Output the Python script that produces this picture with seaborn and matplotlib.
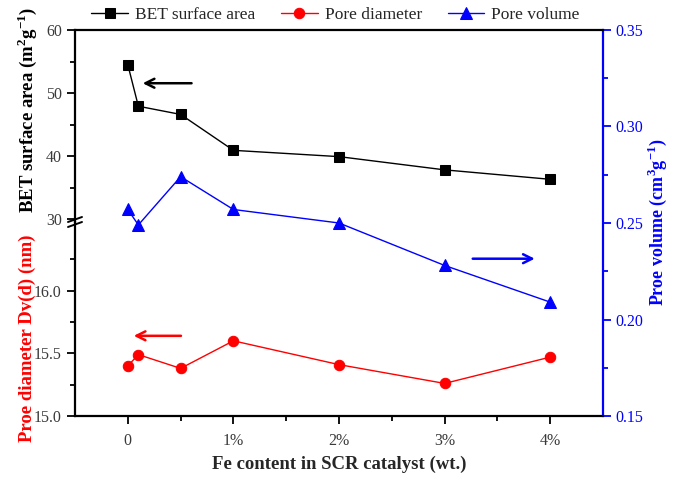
import numpy as np
import pandas as pd
import seaborn as sns
import matplotlib
matplotlib.use("Agg")
import matplotlib.pyplot as plt
from matplotlib.lines import Line2D
from matplotlib.ticker import MultipleLocator, FixedLocator

# ---------------- data ----------------
fe_content = [0, 0.1, 0.5, 1, 2, 3, 4]
bet_area = [54.5, 47.9, 46.6, 40.9, 39.9, 37.8, 36.3]
pore_diameter = [15.40, 15.49, 15.38, 15.60, 15.41, 15.26, 15.47]
pore_volume = [0.257, 0.249, 0.274, 0.257, 0.250, 0.228, 0.209]
x_ticks = [0, 1, 2, 3, 4]
x_ticklabels = ["0", "1%", "2%", "3%", "4%"]

sns.set_style("ticks")
plt.rcParams["font.family"] = ["Liberation Serif", "DejaVu Serif"]
plt.rcParams["mathtext.fontset"] = "custom"
plt.rcParams["mathtext.rm"] = "Liberation Serif"
plt.rcParams["mathtext.bf"] = "Liberation Serif:bold"

W, H = 673, 479
fig = plt.figure(figsize=(W / 100, H / 100), dpi=100)

L, R, T, B = 75, 603, 30, 416
BRK = 222


def rect(top, bottom):
    return [L / W, 1 - bottom / H, (R - L) / W, (bottom - top) / H]


TICK_GRAY = "#3a3a3a"
FS_TICK = 11.5
FS_LAB = 13.5
XLIM = (-0.5, 4.5)

# full-frame axes: x axis + right pore volume axis
ax_r = fig.add_axes(rect(T, B))
ax_r.set_facecolor("none")
ax_u = fig.add_axes(rect(T, BRK))
ax_l = fig.add_axes(rect(BRK, B))
for a in (ax_u, ax_l):
    a.set_facecolor("none")

df_v = pd.DataFrame({"x": fe_content, "y": pore_volume})
df_b = pd.DataFrame({"x": fe_content, "y": bet_area})
df_d = pd.DataFrame({"x": fe_content, "y": pore_diameter})

sns.lineplot(data=df_v, x="x", y="y", ax=ax_r, color="#0000FF", lw=1.0,
             marker="^", markersize=8, markeredgecolor="#0000FF",
             markerfacecolor="#0000FF", label="Pore volume")
sns.lineplot(data=df_b, x="x", y="y", ax=ax_u, color="black", lw=1.0,
             marker="s", markersize=6.5, markeredgecolor="black",
             markerfacecolor="black", label="BET surface area")
sns.lineplot(data=df_d, x="x", y="y", ax=ax_l, color="#FF0000", lw=1.0,
             marker="o", markersize=7.5, markeredgecolor="#FF0000",
             markerfacecolor="#FF0000", label="Pore diameter")

handles = []
for a in (ax_u, ax_l, ax_r):
    h, _ = a.get_legend_handles_labels()
    handles += h
    if a.get_legend() is not None:
        a.get_legend().remove()

# ---- right / full axes ----
ax_r.set_xlim(*XLIM)
ax_r.set_ylim(0.15, 0.35)
ax_r.yaxis.tick_right()
ax_r.spines["left"].set_visible(False)
for s in ("top", "bottom"):
    ax_r.spines[s].set_color("black")
    ax_r.spines[s].set_linewidth(1.6)
ax_r.spines["right"].set_color("#0000FF")
ax_r.spines["right"].set_linewidth(1.6)
ax_r.yaxis.set_major_locator(MultipleLocator(0.05))
ax_r.yaxis.set_minor_locator(MultipleLocator(0.025))
ax_r.yaxis.set_major_formatter(matplotlib.ticker.FormatStrFormatter("%.2f"))
ax_r.tick_params(axis="y", which="both", direction="out", colors="#0000FF",
                 labelcolor="#0000FF", labelsize=FS_TICK, width=1.3, pad=3)
ax_r.tick_params(axis="y", which="major", length=6)
ax_r.tick_params(axis="y", which="minor", length=3.5)
ax_r.xaxis.set_major_locator(FixedLocator(x_ticks))
ax_r.set_xticklabels(x_ticklabels)
ax_r.xaxis.set_minor_locator(FixedLocator([0.5, 1.5, 2.5, 3.5]))
ax_r.tick_params(axis="x", which="both", direction="out", color="black",
                 labelcolor=TICK_GRAY, labelsize=FS_TICK, width=1.3, pad=6)
ax_r.tick_params(axis="x", which="major", length=6)
ax_r.tick_params(axis="x", which="minor", length=3.5)
ax_r.set_xlabel("Fe content in SCR catalyst (wt.)", fontsize=FS_LAB,
                fontweight="bold", labelpad=5)
ax_r.set_ylabel("")

# ---- upper left (BET) ----
ax_u.set_xlim(*XLIM)
ax_u.set_ylim(60 - (BRK - T) * 30 / (219 - T), 60)
ax_u.set_yticks([30, 40, 50, 60])
ax_u.yaxis.set_minor_locator(FixedLocator([35, 45, 55]))
# ---- lower left (pore diameter) ----
ax_l.set_xlim(*XLIM)
ax_l.set_ylim(15.0, 15.0 + (B - BRK) / 125.3)
ax_l.set_yticks([15.0, 15.5, 16.0])
ax_l.set_yticklabels(["15.0", "15.5", "16.0"])
ax_l.yaxis.set_minor_locator(FixedLocator([15.25, 15.75, 16.25]))

for a in (ax_u, ax_l):
    for s in ("top", "bottom", "right"):
        a.spines[s].set_visible(False)
    a.spines["left"].set_color("black")
    a.spines["left"].set_linewidth(1.6)
    a.set_xticks([])
    a.set_xlabel("")
    a.set_ylabel("")
    a.tick_params(axis="y", which="both", direction="out", color="black",
                  labelcolor=TICK_GRAY, labelsize=FS_TICK, width=1.3)
    a.tick_params(axis="y", which="major", length=6)
    a.tick_params(axis="y", which="minor", length=3.5)

# axis labels
fig.text(27 / W, 1 - 110 / H, r"BET surface area (m$^{\mathbf{2}}$g$^{\mathbf{-1}}$)",
         rotation=90, ha="center", va="center", fontsize=FS_LAB, fontweight="bold",
         color="black")
fig.text(27 / W, 1 - 338 / H, "Proe diameter Dv(d) (nm)",
         rotation=90, ha="center", va="center", fontsize=FS_LAB, fontweight="bold",
         color="#FF0000")
fig.text(657 / W, 1 - 222 / H, r"Proe volume (cm$^{\mathbf{3}}$g$^{\mathbf{-1}}$)",
         rotation=90, ha="center", va="center", fontsize=13, fontweight="bold",
         color="#0000FF")

# axis break marks
for yb in (219.5, 224.5):
    fig.add_artist(Line2D([68 / W, 82 / W], [1 - (yb + 2.5) / H, 1 - (yb - 2.5) / H],
                          color="black", lw=1.4))

# arrows
arrow_kw = dict(arrowstyle="->", lw=1.8, mutation_scale=16)
ax_u.annotate("", xy=(0.115, 51.55), xytext=(0.63, 51.55),
              arrowprops=dict(color="black", **arrow_kw))
ax_l.annotate("", xy=(0.03, 15.64), xytext=(0.53, 15.64),
              arrowprops=dict(color="#FF0000", **arrow_kw))
ax_r.annotate("", xy=(3.88, 0.2315), xytext=(3.24, 0.2315),
              arrowprops=dict(color="#0000FF", **arrow_kw))

# legend above plot
fig.legend(handles, ["BET surface area", "Pore diameter", "Pore volume"],
           loc="center", bbox_to_anchor=(0.4985, 1 - 15 / H), ncol=3,
           frameon=False, fontsize=12.5, handlelength=2.1, columnspacing=1.5,
           handletextpad=0.4, borderaxespad=0)

fig.savefig("out.png", dpi=100)
